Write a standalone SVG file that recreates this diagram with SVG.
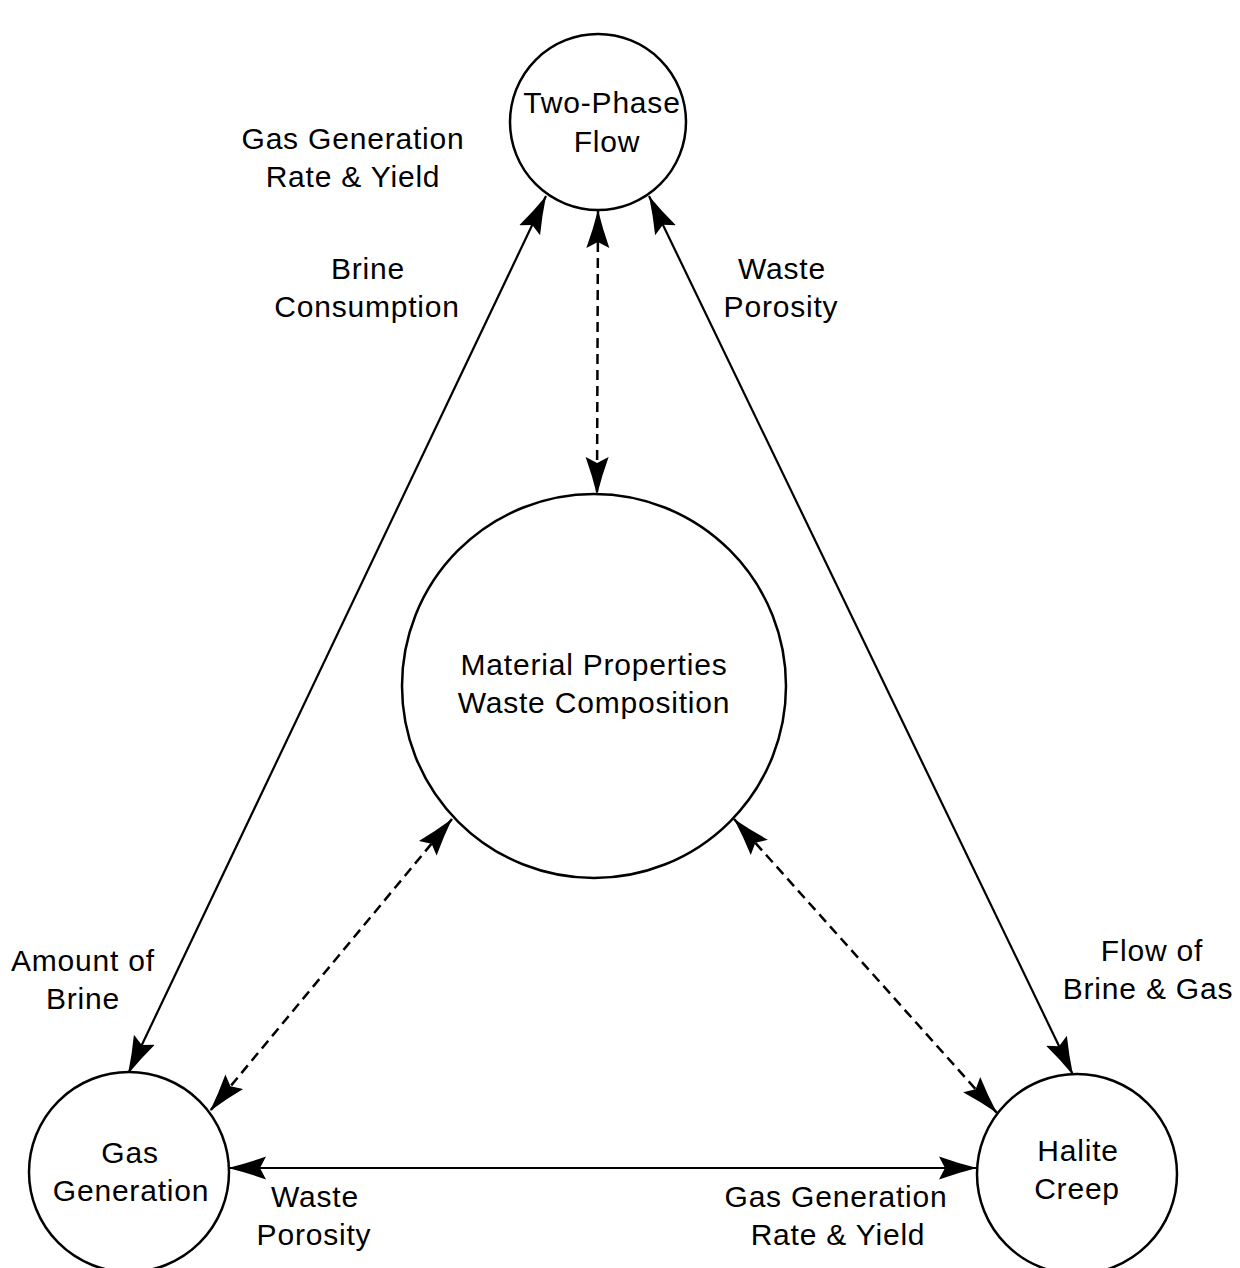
<svg xmlns="http://www.w3.org/2000/svg" width="1240" height="1268" viewBox="0 0 1240 1268">
  <style>
    .node circle { fill: #ffffff; stroke: #000000; stroke-width: 2.5; }
    .label { font-family: "Liberation Sans", Arial, Helvetica, sans-serif; font-size: 30px; letter-spacing: 0.8px; fill: #000000; text-anchor: middle; }
    .link { fill: none; stroke: #000000; stroke-width: 2.2; marker-start: url(#arrow); marker-end: url(#arrow); }
    .dashed { stroke-width: 2.5; stroke-dasharray: 10 6; }
  </style>
  <defs>
    <!-- swept arrowhead with a notched back, tip at the path end -->
    <marker id="arrow" viewBox="0 -13 40 26" refX="38" refY="0" markerWidth="40" markerHeight="26" markerUnits="userSpaceOnUse" orient="auto-start-reverse">
      <path d="M38,0 Q18,-5 0,-11.5 L6,0 L0,11.5 Q18,5 38,0 Z" fill="#000000"/>
    </marker>
  </defs>

  <rect width="1240" height="1268" fill="#ffffff"/>

  <!-- connectors -->
  <g id="connectors">
    <line class="link" x1="128" y1="1074" x2="546" y2="196"/>
    <line class="link" x1="649" y1="196" x2="1073" y2="1075"/>
    <line class="link" x1="228" y1="1168" x2="977" y2="1168"/>
    <line class="link dashed" x1="598" y1="210" x2="597" y2="495"/>
    <line class="link dashed" x1="452" y1="819" x2="210" y2="1111"/>
    <line class="link dashed" x1="734" y1="819" x2="997" y2="1113"/>
  </g>

  <!-- nodes -->
  <g id="two-phase-flow" class="node">
    <circle cx="598" cy="122" r="88"/>
    <text class="label" x="602" y="113">Two-Phase</text>
    <text class="label" x="607" y="152">Flow</text>
  </g>
  <g id="material-properties" class="node">
    <circle cx="594" cy="686" r="192"/>
    <text class="label" x="594" y="675">Material Properties</text>
    <text class="label" x="594" y="713">Waste Composition</text>
  </g>
  <g id="gas-generation" class="node">
    <circle cx="129" cy="1172" r="100"/>
    <text class="label" x="130" y="1163">Gas</text>
    <text class="label" x="131" y="1201">Generation</text>
  </g>
  <g id="halite-creep" class="node">
    <circle cx="1077" cy="1174" r="100"/>
    <text class="label" x="1078" y="1161">Halite</text>
    <text class="label" x="1077" y="1199">Creep</text>
  </g>

  <!-- connector labels -->
  <g id="labels">
    <text class="label" x="353" y="149">Gas Generation</text>
    <text class="label" x="353" y="187">Rate &amp; Yield</text>
    <text class="label" x="368" y="279">Brine</text>
    <text class="label" x="367" y="317">Consumption</text>
    <text class="label" x="782" y="279">Waste</text>
    <text class="label" x="781" y="317">Porosity</text>
    <text class="label" x="83" y="971">Amount of</text>
    <text class="label" x="83" y="1009">Brine</text>
    <text class="label" x="1152" y="961">Flow of</text>
    <text class="label" x="1148" y="999">Brine &amp; Gas</text>
    <text class="label" x="315" y="1207">Waste</text>
    <text class="label" x="314" y="1245">Porosity</text>
    <text class="label" x="836" y="1207">Gas Generation</text>
    <text class="label" x="838" y="1245">Rate &amp; Yield</text>
  </g>
</svg>
